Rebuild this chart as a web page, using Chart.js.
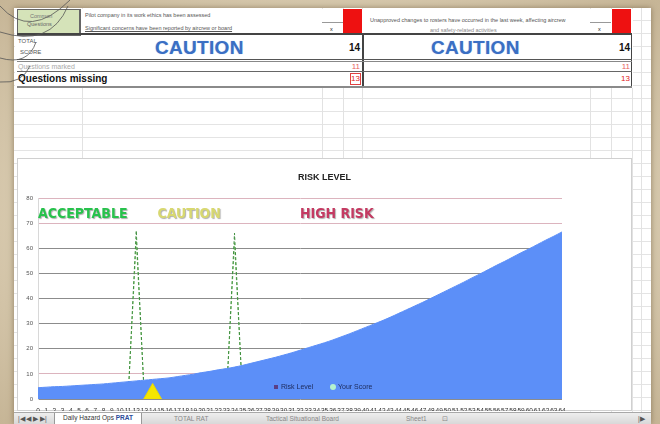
<!DOCTYPE html>
<html>
<head>
<meta charset="utf-8">
<script src="https://cdn.jsdelivr.net/npm/chart.js@4.4.0/dist/chart.umd.min.js"></script>
<style>
html, body { margin: 0; padding: 0; }
body {
    width: 660px; height: 424px; overflow: hidden; position: relative;
    font-family: "Liberation Sans", Arial, sans-serif;
    background: radial-gradient(ellipse at center, #e8dfcc 0%, #d8caaf 65%, #c6b596 100%);
}
.abs { position: absolute; }
#sheet {
    left: 14px; top: 8px; width: 637px; height: 416px; background-color: #fff;
    background-image: repeating-linear-gradient(to bottom, transparent 0, transparent 12px, #e4e4e4 12px, #e4e4e4 13px);
    box-shadow: 0 0 6px rgba(90, 70, 40, 0.55);
}
.vline { top: 8px; width: 1px; height: 416px; background: #e2e2e2; }
#topblock { left: 15px; top: 9px; width: 618px; height: 79px; background: #fff; }
.tiny { font-size: 5.5px; color: #555; white-space: nowrap; }
.caution { font-size: 19px; font-weight: bold; color: #3a6fc4; letter-spacing: 0.3px; text-shadow: 0 0 1px #9ab6e6; }
.score { font-size: 10px; font-weight: bold; color: #111; text-align: right; width: 20px; }
.red { color: #e02020; text-align: right; width: 14px; font-size: 8px; }
.hl { height: 1px; background: #555; }
#chartbox { left: 17px; top: 158px; width: 615px; height: 253px; background: #fff; border: 1px solid #d0d0d0; box-sizing: border-box; }
#chartbox canvas { position: absolute; left: -1px; top: -1px; }
#tabs { left: 14px; top: 412px; width: 637px; height: 12px; background: linear-gradient(#eeeeee, #d6d6d6); border-top: 1px solid #a8a8a8; font-size: 6.5px; color: #555; }
#tabs span { position: absolute; top: 2px; white-space: nowrap; }
</style>
</head>
<body>
<div id="sheet" class="abs"></div>
<div class="abs vline" style="left:82px"></div>
<div class="abs vline" style="left:322px"></div>
<div class="abs vline" style="left:343px"></div>
<div class="abs vline" style="left:362px"></div>
<div class="abs vline" style="left:590px"></div>
<div class="abs vline" style="left:611px"></div>
<div class="abs vline" style="left:632px"></div>
<div class="abs vline" style="left:641px"></div>

<div id="topblock" class="abs"></div>
<!-- row 1 -->
<div class="abs" style="left:17px;top:9px;width:61px;height:24px;background:#d5e3b9;border:1px solid #666;border-right-width:2px;border-bottom-width:2px;"></div>
<div class="abs tiny" style="left:30px;top:13px;color:#777;">Common</div>
<div class="abs tiny" style="left:27px;top:21px;color:#666;">Questions</div>
<div class="abs tiny" style="left:85px;top:12px;">Pilot company in its work ethics has been assessed</div>
<div class="abs tiny" style="left:85px;top:25px;text-decoration:underline;">Significant concerns have been reported by aircrew or board</div>
<div class="abs" style="left:322px;top:22px;width:21px;height:1px;background:#999;"></div>
<div class="abs tiny" style="left:330px;top:26px;color:#222;">x</div>
<div class="abs" style="left:343px;top:9px;width:19px;height:25px;background:#ee1111;"></div>
<div class="abs tiny" style="left:370px;top:17px;">Unapproved changes to rosters have occurred in the last week, affecting aircrew</div>
<div class="abs tiny" style="left:430px;top:27px;color:#888;">and safety-related activities</div>
<div class="abs" style="left:590px;top:22px;width:21px;height:1px;background:#999;"></div>
<div class="abs tiny" style="left:598px;top:26px;color:#222;">x</div>
<div class="abs" style="left:612px;top:9px;width:19px;height:25px;background:#ee1111;"></div>
<div class="abs" style="left:17px;top:33px;width:615px;height:2px;background:#444;"></div>
<!-- row 2 -->
<div class="abs tiny" style="left:18px;top:38px;font-size:6px;">TOTAL</div>
<div class="abs tiny" style="left:20px;top:49px;font-size:6px;">SCORE</div>
<div class="abs caution" style="left:155px;top:37px;">CAUTION</div>
<div class="abs score" style="left:340px;top:42px;">14</div>
<div class="abs" style="left:362px;top:34px;width:2px;height:53px;background:#444;"></div>
<div class="abs caution" style="left:431px;top:37px;">CAUTION</div>
<div class="abs score" style="left:610px;top:42px;">14</div>
<div class="abs" style="left:631px;top:34px;width:1px;height:53px;background:#444;"></div>
<div class="abs hl" style="left:17px;top:59px;width:615px;"></div>
<div class="abs hl" style="left:17px;top:61px;width:615px;background:#888;"></div>
<!-- row 3 -->
<div class="abs tiny" style="left:18px;top:63px;font-size:7px;color:#aaa;">Questions marked</div>
<div class="abs red" style="left:346px;top:62px;color:#e86060;">11</div>
<div class="abs red" style="left:616px;top:62px;color:#e86060;">11</div>
<div class="abs hl" style="left:17px;top:71px;width:615px;background:#666;"></div>
<!-- row 4 -->
<div class="abs" style="left:18px;top:73px;font-size:10px;font-weight:bold;color:#111;">Questions missing</div>
<div class="abs" style="left:350px;top:73px;width:11px;height:12px;border:1px solid #e04040;box-sizing:border-box;"></div>
<div class="abs red" style="left:346px;top:74px;">13</div>
<div class="abs red" style="left:616px;top:74px;">13</div>
<div class="abs" style="left:17px;top:86px;width:615px;height:2px;background:#8a8a8a;"></div>

<svg class="abs" style="left:0;top:0" width="120" height="100">
  <g fill="none" stroke="#555" stroke-width="0.8">
    <path d="M0,6 Q30,40 70,0"/>
    <path d="M0,32 Q50,48 68,6"/>
    <path d="M0,58 Q28,66 36,42"/>
    <path d="M0,82 Q22,84 30,66"/>
  </g>
</svg>

<div id="chartbox" class="abs"><canvas id="riskChart" width="615" height="253"></canvas></div>

<div id="tabs" class="abs">
  <span style="left:4px;">|◀ ◀ ▶ ▶|</span>
  <span style="left:40px;top:0;height:10px;padding:1px 8px 0;background:#fff;border:1px solid #999;border-top:none;color:#333;">Daily Hazard Ops <b style="color:#2a4a9a">PRAT</b></span>
  <span style="left:160px;color:#888;">TOTAL RAT</span>
  <span style="left:252px;color:#888;">Tactical Situational Board</span>
  <span style="left:392px;color:#888;">Sheet1</span>
  <span style="left:428px;color:#888;">⊡</span>
  <span style="left:624px;">|▶</span>
</div>

<script>
const scoreLabels = ['0', '1', '2', '3', '4', '5', '6', '7', '8', '9', '10', '11', '12', '13', '14', '15',
    '16', '17', '18', '19', '20', '21', '22', '23', '24', '25', '26', '27', '28', '29', '30', '31', '32',
    '33', '34', '35', '36', '37', '38', '39', '40', '41', '42', '43', '44', '45', '46', '47', '48', '49',
    '50', '51', '52', '53', '54', '55', '56', '57', '58', '59', '60', '61', '62', '63', '64'];

// blue risk curve
const riskCurve = [4.5, 4.7, 4.9, 5.0, 5.2, 5.4, 5.6, 5.8, 6.0, 6.3, 6.6, 6.9, 7.2, 7.5, 7.8, 8.1,
    8.4, 8.9, 9.4, 9.9, 10.5, 11.0, 11.6, 12.1, 12.7, 13.4, 14.2, 15.0, 15.8, 16.6, 17.5, 18.4, 19.4,
    20.4, 21.4, 22.4, 23.5, 24.7, 25.9, 27.2, 28.5, 29.8, 31.1, 32.5, 34.0, 35.5, 37.0, 38.5, 40.1, 41.7,
    43.3, 44.9, 46.5, 48.2, 49.8, 51.5, 53.2, 54.8, 56.5, 58.2, 59.8, 61.5, 63.2, 64.8, 66.5];

// dashed spikes (null = no point)
const spikesA = [null, null, null, null, null, null, null, null, null, null, null, 0, 67, 0, null, null,
    null, null, null, null, null, null, null, 0, 66, 0, null, null, null, null, null, null, null,
    null, null, null, null, null, null, null, null, null, null, null, null, null, null, null, null, null,
    null, null, null, null, null, null, null, null, null, null, null, null, null, null, null];
const spikesB = [null, null, null, null, null, null, null, null, null, null, null, 0, 63, 0, null, null,
    null, null, null, null, null, null, null, 0, 62, 0, null, null, null, null, null, null, null,
    null, null, null, null, null, null, null, null, null, null, null, null, null, null, null, null, null,
    null, null, null, null, null, null, null, null, null, null, null, null, null, null, null];

// yellow marker for the current total score (14)
const scoreMarker = [null, null, null, null, null, null, null, null, null, null, null, null, null, null, 2, null,
    null, null, null, null, null, null, null, null, null, null, null, null, null, null, null, null, null,
    null, null, null, null, null, null, null, null, null, null, null, null, null, null, null, null, null,
    null, null, null, null, null, null, null, null, null, null, null, null, null, null, null];

const zoneNames = ['ACCEPTABLE', 'CAUTION', 'HIGH RISK'];
const zoneStart = [0, 14.6, 32];
const zoneLevel = 73.5;
const zoneColors = ['#27c24c', '#d8d870', '#c43a62'];

const legendNames = ['Risk Level', 'Your Score'];

const titlePlugin = {
    id: 'riskTitle',
    afterDraw(chart) {
        const ctx = chart.ctx;
        ctx.save();
        ctx.font = 'bold 9px "Liberation Sans", Arial, sans-serif';
        ctx.fillStyle = '#222';
        ctx.textAlign = 'center';
        ctx.textBaseline = 'middle';
        ctx.fillText('RISK LEVEL', chart.width / 2, 20);
        ctx.restore();
    }
};

const zonePlugin = {
    id: 'zoneLabels',
    afterDatasetsDraw(chart) {
        const ctx = chart.ctx;
        const x = chart.scales.x, y = chart.scales.y;
        ctx.save();
        ctx.font = 'bold 14px "Liberation Sans Narrow", "DejaVu Sans Condensed", Arial, sans-serif';
        ctx.textBaseline = 'middle';
        ctx.textAlign = 'left';
        zoneNames.forEach((name, i) => {
            ctx.shadowColor = 'rgba(80, 80, 80, 0.45)';
            ctx.shadowOffsetX = 1;
            ctx.shadowOffsetY = 1;
            ctx.shadowBlur = 1;
            ctx.fillStyle = zoneColors[i];
            ctx.fillText(name, x.getPixelForValue(zoneStart[i]), y.getPixelForValue(zoneLevel));
        });
        ctx.restore();
    }
};

const legendPlugin = {
    id: 'innerLegend',
    afterDraw(chart) {
        const ctx = chart.ctx;
        const area = chart.chartArea;
        const ly = area.bottom - 12;
        let lx = area.left + 238;
        ctx.save();
        ctx.font = '7px "Liberation Sans", Arial, sans-serif';
        ctx.textBaseline = 'middle';
        ctx.fillStyle = '#5a3f86';
        ctx.fillRect(lx - 2, ly - 2, 4, 4);
        ctx.fillStyle = '#1d2a5a';
        ctx.fillText(legendNames[0], lx + 5, ly);
        lx += 57;
        ctx.fillStyle = '#b4f2cf';
        ctx.beginPath();
        ctx.arc(lx, ly, 3, 0, Math.PI * 2);
        ctx.fill();
        ctx.fillStyle = '#1d2a5a';
        ctx.fillText(legendNames[1], lx + 5, ly);
        ctx.restore();
    }
};

function createRiskChart(canvas) {
    const ctx = canvas.getContext('2d');
    return new Chart(ctx, {
        type: 'line',
        data: {
            labels: scoreLabels,
            datasets: [
                {
                    label: 'Score',
                    data: scoreMarker,
                    showLine: false,
                    pointStyle: 'triangle',
                    pointRadius: 10.5,
                    backgroundColor: '#f5e600',
                    borderColor: '#e8d800',
                    borderWidth: 1,
                    order: 0,
                },
                {
                    label: 'Risk',
                    data: riskCurve,
                    fill: 'origin',
                    backgroundColor: 'rgb(92, 143, 248)',
                    borderColor: 'rgb(92, 143, 248)',
                    borderWidth: 1,
                    pointRadius: 0,
                    tension: 0.3,
                    order: 1,
                },
                {
                    label: legendNames[0],
                    data: spikesA,
                    borderColor: '#3f8f3f',
                    borderWidth: 1,
                    borderDash: [3, 2],
                    pointRadius: 0,
                    spanGaps: false,
                    order: 2,
                },
                {
                    label: legendNames[1],
                    data: spikesB,
                    borderColor: '#7cbf6a',
                    borderWidth: 1,
                    borderDash: [3, 2],
                    pointRadius: 0,
                    spanGaps: false,
                    order: 3,
                },
            ],
        },
        options: {
            responsive: false,
            animation: false,
            layout: { padding: { top: 40, right: 70, left: 0, bottom: 0 } },
            plugins: {
                legend: { display: false },
                tooltip: { enabled: false },
                title: { display: false },
            },
            scales: {
                x: {
                    offset: false,
                    grid: { display: false },
                    border: { display: false },
                    ticks: {
                        autoSkip: false,
                        maxRotation: 0,
                        minRotation: 0,
                        padding: 0,
                        color: '#333',
                        font: { size: 6.5 },
                    },
                    afterFit(scale) { scale.height = 12; },
                },
                y: {
                    min: 0,
                    max: 80,
                    ticks: {
                        stepSize: 10,
                        padding: 5,
                        color: '#555',
                        font: { size: 6 },
                    },
                    grid: {
                        drawTicks: false,
                        lineWidth: 1,
                        color: (c) => [80, 70, 10].includes(c.tick && c.tick.value) ? '#dcb4be' : '#8c8c8c',
                    },
                    border: { display: true, color: '#d8d8d8' },
                    afterFit(scale) { scale.width = 21; },
                },
            },
        },
        plugins: [titlePlugin, zonePlugin, legendPlugin],
    });
}

const riskChart = createRiskChart(document.getElementById('riskChart'));
</script>
</body>
</html>
